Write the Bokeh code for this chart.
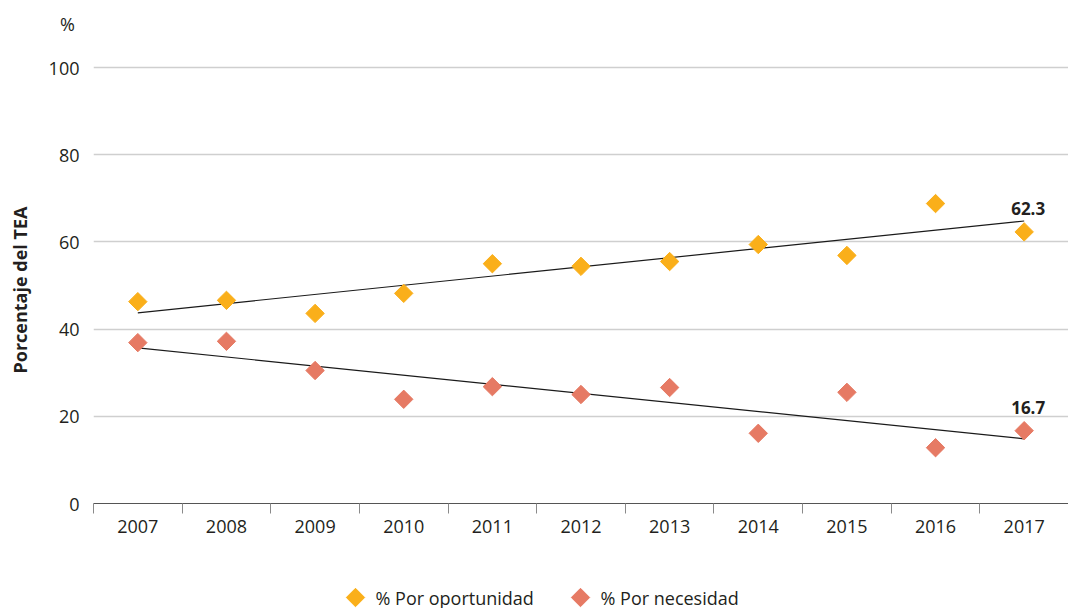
import numpy as np
from bokeh.plotting import figure
from bokeh.layouts import column
from bokeh.models import ColumnDataSource, FixedTicker, Range1d
from bokeh.core.properties import value
from bokeh.embed import file_html
from bokeh.resources import INLINE

years = ["2007", "2008", "2009", "2010", "2011", "2012", "2013", "2014", "2015", "2016", "2017"]
oportunidad = [46.3, 46.6, 43.6, 48.2, 55.0, 54.4, 55.5, 59.4, 56.9, 68.8, 62.3]
necesidad = [36.9, 37.2, 30.5, 23.9, 26.8, 25.0, 26.6, 16.1, 25.5, 12.8, 16.7]
y_ticks = [0, 20, 40, 60, 80, 100]
unit_label = "%"
y_title = "Porcentaje del TEA"
series_names = ["% Por oportunidad", "% Por necesidad"]

FONT = "Open Sans"
TXT = "#231F20"
C_OPO = "#FAAF1A"
C_NEC = "#E67A64"
NBSP = "\u00a0"

xs = list(range(len(years)))
src = ColumnDataSource(dict(x=xs, opo=oportunidad, nec=necesidad))

p = figure(width=1068, height=565, output_backend="svg", toolbar_location=None,
           x_range=Range1d(-0.5, len(years) - 0.5), y_range=Range1d(0, 114),
           min_border_left=93, min_border_right=0, min_border_top=6, min_border_bottom=62)
p.outline_line_color = None
p.background_fill_color = "white"

# trend lines (least squares fit)
for vals in (oportunidad, necesidad):
    m, b = np.polyfit(xs, vals, 1)
    p.line([xs[0], xs[-1]], [b + m * xs[0], b + m * xs[-1]], line_color="#1a1a1a", line_width=1.2)

p.scatter("x", "opo", source=src, marker="square", angle=np.pi / 4, size=13,
          fill_color=C_OPO, line_color=C_OPO)
p.scatter("x", "nec", source=src, marker="square", angle=np.pi / 4, size=13,
          fill_color=C_NEC, line_color=C_NEC)

# end value labels
p.text(x=[xs[-1], xs[-1]], y=[oportunidad[-1], necesidad[-1]],
       text=[f"{oportunidad[-1]:.1f}", f"{necesidad[-1]:.1f}"],
       text_font=value(FONT), text_font_style="bold", text_font_size="17px",
       text_color=TXT, text_align="center", text_baseline="bottom",
       x_offset=4, y_offset=-17)

# axes
xa = p.xaxis[0]
xa.ticker = FixedTicker(ticks=xs, minor_ticks=[i - 0.5 for i in range(len(years) + 1)])
xa.major_label_overrides = {i: y for i, y in enumerate(years)}
xa.major_tick_line_color = None
xa.major_tick_out = 10
xa.major_tick_in = 0
xa.minor_tick_in = 0
xa.minor_tick_out = 10
xa.minor_tick_line_color = "#8a8a8a"
xa.axis_line_color = "#555555"
xa.major_label_text_font = FONT
xa.major_label_text_font_size = "18px"
xa.major_label_text_color = TXT
xa.major_label_standoff = 6

ya = p.yaxis[0]
ya.ticker = FixedTicker(ticks=y_ticks + [110])
ya.major_label_overrides = {110: unit_label + NBSP}
ya.axis_line_color = None
ya.major_tick_line_color = None
ya.major_tick_out = 0
ya.major_tick_in = 0
ya.minor_tick_line_color = None
ya.minor_tick_out = 0
ya.minor_tick_in = 0
ya.major_label_text_font = FONT
ya.major_label_text_font_size = "18px"
ya.major_label_text_color = TXT
ya.major_label_standoff = 14
ya.axis_label = y_title + NBSP * 15
ya.axis_label_text_font = FONT
ya.axis_label_text_font_style = "bold"
ya.axis_label_text_font_size = "18px"
ya.axis_label_text_color = TXT
ya.axis_label_standoff = 14

p.xgrid.grid_line_color = None
p.ygrid.ticker = FixedTicker(ticks=y_ticks[1:])
p.ygrid.grid_line_color = "#CFCFCF"
p.ygrid.grid_line_width = 1.5

# legend strip below the chart (frame aligned with the chart; 1 unit = 1 px)
lg = figure(width=1068, height=43, output_backend="svg", toolbar_location=None,
            x_range=Range1d(0, 975), y_range=Range1d(0, 43), min_border=0)
lg.axis.visible = False
lg.grid.grid_line_color = None
lg.outline_line_color = None
key_x = [262, 487]
key_y = [11, 11]
lg.scatter(x=key_x, y=key_y, marker="square", angle=np.pi / 4, size=13,
           fill_color=[C_OPO, C_NEC], line_color=[C_OPO, C_NEC])
lg.text(x=key_x, y=key_y, text=series_names, x_offset=20,
        text_font=value(FONT), text_font_size="18px", text_color=TXT,
        text_align="left", text_baseline="middle")

layout = column(p, lg, spacing=0)
open("out.html", "w").write(file_html(layout, INLINE))
